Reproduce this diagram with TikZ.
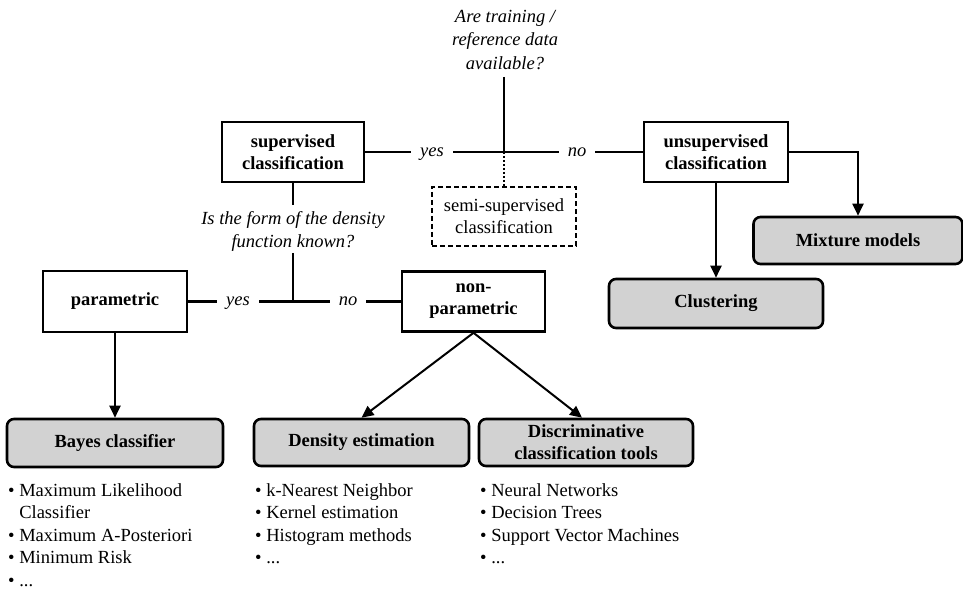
\documentclass[tikz,border=0pt]{standalone}
\usepackage{fontspec}
\setmainfont{Liberation Serif}
\usetikzlibrary{arrows.meta}
\begin{document}
\begin{tikzpicture}[x=1pt,y=-1pt,
  txt/.style={font=\fontsize{18.5}{22.5}\selectfont},
  qtxt/.style={txt,font=\fontsize{18.5}{23.5}\selectfont\itshape,align=center,inner sep=0pt},
  wbox/.style={draw,line width=2.6pt,align=center,inner sep=0pt,font=\fontsize{18.5}{22}\selectfont\bfseries},
  gbox/.style={wbox,fill=gray!35,rounded corners=7pt},
  semibox/.style={draw,line width=2pt,dash pattern=on 5pt off 3pt,align=center,inner sep=0pt,font=\fontsize{18.5}{22}\selectfont},
  yn/.style={font=\fontsize{18.5}{22}\selectfont\itshape,inner xsep=9pt,inner ysep=4pt,text height=8.5pt,text depth=0pt},
  tline/.style={line width=2.8pt},
  arr/.style={line width=2pt,-{Triangle[length=12pt,width=11pt]}},
  lst/.style={txt,align=left,anchor=north west,inner sep=0pt}]
\useasboundingbox (0,0) rectangle (963,593);

% top question
\node[qtxt] (q1) at (505,40) {Are training /\\reference data\\available?};
\node[wbox,minimum width=142pt,minimum height=60pt] (sup) at (293,152) {supervised\\classification};
\node[wbox,minimum width=144pt,minimum height=60pt] (unsup) at (716,152) {unsupervised\\classification};
\node[semibox,minimum width=144pt,minimum height=59pt] (semi) at (504,216.5) {semi-supervised\\classification};
\node[yn] (yes1) at (432,152) {yes};
\node[yn] (no1) at (577,152) {no};
\coordinate (j1) at (504,152);
\coordinate (q1b) at (504,77);

\draw[tline] (q1b) -- (j1);
\draw[tline] (sup.east) -- (yes1.west);
\draw[tline] (yes1.east) -- (no1.west);
\draw[tline] (no1.east) -- (unsup.west);
\draw[line width=2pt,dotted] (j1) -- (semi.north);

% unsupervised branch
\node[gbox,minimum width=209pt,minimum height=47pt] (mix) at (858,240.5) {Mixture models};
\node[gbox,minimum width=214pt,minimum height=49pt] (clust) at (716,303.5) {Clustering};
\draw[arr] (unsup.east) -| (mix.north);
\draw[arr] (unsup.south) -- (clust.north);

% second question
\node[qtxt] (q2) at (293,231.5) {Is the form of the density\\function known?};
\coordinate (q2t) at (293,205);
\coordinate (q2b) at (293,253);
\coordinate (j2) at (293,301.5);
\node[wbox,minimum width=144pt,minimum height=61pt] (param) at (115,301.5) {parametric};
\node[wbox,minimum width=143pt,minimum height=60pt] (nonparam) at (473.5,301.5) {non-\\parametric};
\node[yn] (yes2) at (238,301.5) {yes};
\node[yn] (no2) at (348,301.5) {no};
\draw[tline] (sup.south) -- (q2t);
\draw[tline] (q2b) -- (j2);
\draw[tline] (param.east) -- (yes2.west);
\draw[tline] (yes2.east) -- (no2.west);
\draw[tline] (no2.east) -- (nonparam.west);

% bottom boxes
\node[gbox,minimum width=216pt,minimum height=48pt] (bayes) at (115,443) {Bayes classifier};
\node[gbox,minimum width=215pt,minimum height=47pt] (dens) at (361.5,442.5) {Density estimation};
\node[gbox,minimum width=214pt,minimum height=47pt] (disc) at (586,442.5) {Discriminative\\classification tools};
\draw[arr] (param.south) -- (bayes.north);
\draw[arr] (nonparam.south) -- (dens.north);
\draw[arr] (nonparam.south) -- ([xshift=-4pt]disc.north);

% lists
\node[lst] (l1) at (8,483) {\textbullet\ Maximum Likelihood\\\hphantom{\textbullet\ }Classifier\\\textbullet\ Maximum A-Posteriori\\\textbullet\ Minimum Risk\\\textbullet\ ...};
\node[lst] (l2) at (255,483) {\textbullet\ k-Nearest Neighbor\\\textbullet\ Kernel estimation\\\textbullet\ Histogram methods\\\textbullet\ ...};
\node[lst] (l3) at (480,483) {\textbullet\ Neural Networks\\\textbullet\ Decision Trees\\\textbullet\ Support Vector Machines\\\textbullet\ ...};
\end{tikzpicture}
\end{document}
